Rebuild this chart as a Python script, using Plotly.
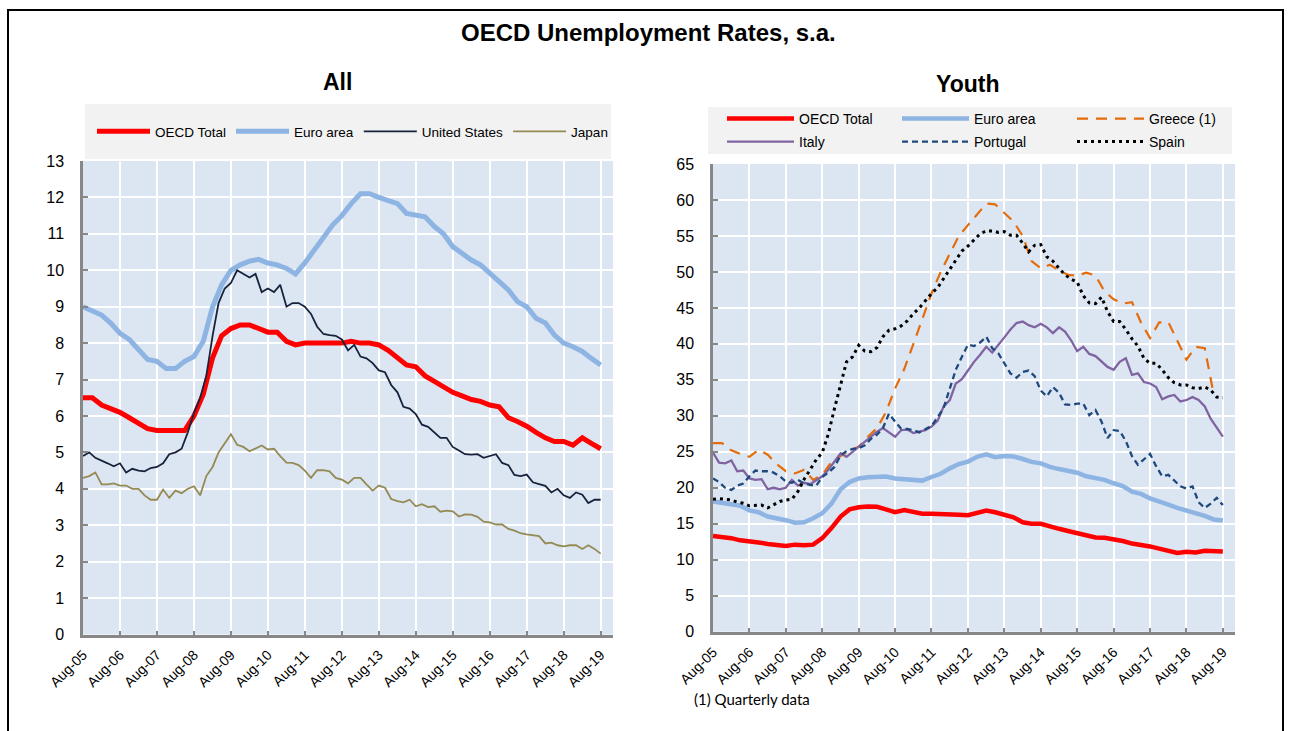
import plotly.graph_objects as go
import pandas as pd

W, H = 1291, 731

# ---------------- dates ----------------
q_dates = pd.date_range("2005-08-01", "2019-08-01", freq="3MS")      # quarterly grid (57)
b_dates = pd.date_range("2005-08-01", "2019-08-01", freq="2MS")      # bi-monthly grid (85)
greece_dates = pd.date_range("2005-08-01", "2019-05-01", freq="3MS")  # quarterly (56)

# ---------------- All ----------------
all_oecd = [6.5, 6.5, 6.3, 6.2, 6.1, 5.95, 5.8, 5.65, 5.6, 5.6, 5.6, 5.6, 6.0,
            6.6, 7.6, 8.2, 8.4, 8.5, 8.5, 8.4, 8.3, 8.3, 8.05, 7.95, 8.0,
            8.0, 8.0, 8.0, 8.0, 8.05, 8.0, 8.0, 7.95, 7.8, 7.6, 7.4, 7.35,
            7.1, 6.95, 6.8, 6.65, 6.55, 6.45, 6.4, 6.3, 6.25, 5.95, 5.85, 5.72, 5.55,
            5.4, 5.3, 5.3, 5.2, 5.4, 5.25, 5.1]
all_euro = [9.0, 8.9, 8.77, 8.55, 8.27, 8.1, 7.8, 7.55, 7.5, 7.3, 7.3, 7.5, 7.63,
            8.05, 9.0, 9.6, 10.0, 10.15, 10.25, 10.3, 10.2, 10.15, 10.05, 9.9, 10.2,
            10.55, 10.87, 11.24, 11.5, 11.83, 12.1, 12.1, 12.0, 11.92, 11.83, 11.56, 11.5,
            11.47, 11.2, 11.0, 10.65, 10.46, 10.28, 10.15, 9.92, 9.73, 9.46, 9.14, 9.0,
            8.68, 8.55, 8.22, 8.0, 7.9, 7.77, 7.58, 7.4]
all_us = [4.9, 5.0, 4.85, 4.78, 4.7, 4.62, 4.7, 4.45, 4.55, 4.5,
          4.48, 4.57, 4.6, 4.7, 4.95, 5.0, 5.1, 5.55, 6.08, 6.5,
          7.1, 8.2, 9.1, 9.5, 9.65, 10.0, 9.9, 9.8, 9.9, 9.4,
          9.5, 9.4, 9.6, 9.0, 9.1, 9.1, 9.0, 8.8, 8.45, 8.25,
          8.22, 8.2, 8.1, 7.8, 7.95, 7.63, 7.58, 7.45, 7.25, 7.2,
          6.85, 6.65, 6.25, 6.2, 6.05, 5.76, 5.7, 5.55, 5.4, 5.4,
          5.15, 5.05, 4.95, 4.94, 4.95, 4.85, 4.9, 4.95, 4.71, 4.65,
          4.38, 4.35, 4.39, 4.18, 4.13, 4.08, 3.9, 4.0, 3.82, 3.75,
          3.9, 3.84, 3.61, 3.7, 3.7]
all_japan = [4.3, 4.35, 4.45, 4.12, 4.12, 4.15, 4.09, 4.09, 4.0, 4.0,
             3.82, 3.7, 3.7, 3.98, 3.75, 3.95, 3.88, 4.0, 4.07, 3.82,
             4.35, 4.6, 5.0, 5.25, 5.5, 5.21, 5.15, 5.03, 5.1, 5.19,
             5.08, 5.1, 4.9, 4.72, 4.71, 4.65, 4.5, 4.3, 4.51, 4.51,
             4.48, 4.3, 4.25, 4.15, 4.3, 4.3, 4.12, 3.95, 4.09, 4.03,
             3.72, 3.66, 3.63, 3.7, 3.52, 3.58, 3.5, 3.52, 3.37, 3.4,
             3.38, 3.24, 3.3, 3.29, 3.23, 3.1, 3.08, 3.02, 3.02, 2.9,
             2.85, 2.78, 2.75, 2.72, 2.7, 2.5, 2.52, 2.45, 2.42, 2.45,
             2.45, 2.35, 2.45, 2.35, 2.22]

# ---------------- Youth ----------------
y_oecd = [13.3, 13.2, 13.0, 12.7, 12.6, 12.4, 12.2, 12.0, 11.9, 12.1, 12.0, 12.1, 13.0,
          14.4, 16.0, 17.0, 17.3, 17.4, 17.35, 17.0, 16.6, 16.9, 16.6, 16.4, 16.4,
          16.4, 16.4, 16.25, 16.2, 16.5, 16.85, 16.6, 16.3, 15.9, 15.2, 15.0, 15.0,
          14.6, 14.3, 14.0, 13.7, 13.45, 13.1, 13.05, 12.9, 12.6, 12.25, 12.1, 11.85,
          11.55, 11.25, 10.95, 11.1, 11.0, 11.25, 11.15, 11.15]
y_euro = [18.1, 17.9, 17.6, 17.5, 16.85, 16.6, 16.0, 15.8, 15.5, 15.15, 15.2, 15.76, 16.46,
          17.8, 19.8, 20.8, 21.3, 21.47, 21.47, 21.56, 21.3, 21.2, 21.15, 21.0, 21.5,
          21.95, 22.7, 23.3, 23.64, 24.3, 24.65, 24.25, 24.43, 24.35, 24.0, 23.6, 23.4,
          22.9, 22.6, 22.4, 22.1, 21.6, 21.35, 21.1, 20.63, 20.25, 19.45, 19.15, 18.54,
          18.15, 17.65, 17.2, 16.83, 16.5, 16.1, 15.6, 15.44]
y_greece = [26.2, 26.2, 25.2, 24.7, 24.3, 25.3, 24.6, 23.3, 22.3, 22.0, 22.5, 21.1, 21.8,
            23.6, 24.4, 25.2, 25.7, 27.1, 28.3, 30.5, 33.8, 36.5, 40.0, 43.5, 47.0,
            50.0, 52.5, 55.0, 56.5, 58.0, 59.5, 59.4, 58.2, 57.0, 55.0, 51.5, 50.5,
            51.0, 50.2, 49.6, 49.5, 49.9, 49.5, 47.3, 46.2, 45.6, 45.8, 43.0, 40.8,
            43.0, 43.0, 40.5, 37.8, 39.6, 39.4, 33.0]
y_italy = [24.9, 23.5, 23.4, 23.8, 22.3, 22.4, 21.3, 21.1, 21.2, 19.8,
           20.0, 19.8, 20.0, 21.1, 20.3, 20.7, 20.5, 21.1, 21.6, 22.5,
           23.6, 24.8, 24.3, 25.0, 25.7, 26.3, 27.1, 27.8, 28.3, 27.7,
           27.1, 28.0, 28.1, 27.6, 27.8, 28.0, 28.5, 29.3, 31.3, 32.2,
           34.5, 35.1, 36.3, 37.5, 38.5, 39.6, 38.8, 39.8, 40.9, 42.0,
           42.9, 43.1, 42.6, 42.3, 42.8, 42.3, 41.5, 42.3, 41.7, 40.5,
           39.0, 39.6, 38.6, 38.3, 37.5, 36.8, 36.4, 37.5, 38.0, 35.7,
           35.9, 34.7, 34.5, 34.0, 32.3, 32.7, 32.9, 32.0, 32.2, 32.6,
           32.2, 31.3, 29.6, 28.4, 27.1]
y_portugal = [21.3, 20.8, 20.0, 19.7, 20.3, 20.6, 21.6, 22.4, 22.3, 22.3,
              22.1, 21.6, 20.9, 20.7, 21.1, 20.6, 20.4, 20.3, 21.5, 22.1,
              22.9, 24.5, 25.1, 25.4, 25.5, 25.9, 26.8, 27.4, 28.3, 30.3,
              29.2, 28.2, 28.2, 28.0, 27.7, 28.1, 28.6, 29.8, 31.1, 33.8,
              36.4, 38.2, 39.9, 39.7, 40.2, 41.0, 39.4, 38.7, 37.2, 35.9,
              35.3, 36.1, 36.3, 35.5, 33.5, 32.7, 34.0, 33.2, 31.6, 31.5,
              31.7, 31.7, 30.1, 30.8, 29.2, 26.9, 28.0, 27.9, 26.5, 24.4,
              23.2, 23.9, 24.7, 23.0, 21.6, 21.8, 21.0, 20.2, 19.9, 20.2,
              18.0, 17.2, 17.8, 18.6, 17.6]
y_spain = [18.4, 18.5, 18.4, 18.3, 18.0, 17.85, 17.5, 17.6, 17.6, 17.2,
           17.6, 18.1, 18.3, 18.4, 19.5, 21.2, 22.5, 23.9, 24.9, 27.5,
           31.0, 34.5, 37.5, 38.2, 39.8, 39.0, 38.9, 39.5, 41.0, 41.9,
           42.1, 42.5, 43.2, 44.2, 45.0, 46.0, 47.0, 47.8, 49.1, 50.3,
           51.7, 52.9, 53.6, 54.4, 55.3, 55.7, 55.7, 55.5, 55.6, 55.1,
           55.1, 54.0, 52.8, 53.7, 53.8, 52.1, 51.5, 50.5, 49.6, 49.0,
           48.6, 46.7, 45.7, 45.6, 46.5, 44.5, 43.1, 43.1, 42.0, 40.7,
           39.7, 38.0, 37.3, 37.3, 36.4, 35.3, 34.6, 34.3, 34.3, 33.9,
           33.8, 34.0, 33.6, 32.6, 32.5]

NARROW = "Liberation Sans Narrow, Arial Narrow, Liberation Sans, Arial, sans-serif"
SANS = "Liberation Sans, Arial, sans-serif"

def px(x):
    return x / W

def py(y):
    return 1 - y / H

fig = go.Figure()

# left panel
fig.add_trace(go.Scatter(x=q_dates, y=all_oecd, name="OECD Total", mode="lines",
                         line=dict(color="#FF0000", width=5), xaxis="x", yaxis="y", legend="legend"))
fig.add_trace(go.Scatter(x=q_dates, y=all_euro, name="Euro area", mode="lines",
                         line=dict(color="#8DB4E2", width=5), xaxis="x", yaxis="y", legend="legend"))
fig.add_trace(go.Scatter(x=b_dates, y=all_us, name="United States", mode="lines",
                         line=dict(color="#17233C", width=1.8), xaxis="x", yaxis="y", legend="legend"))
fig.add_trace(go.Scatter(x=b_dates, y=all_japan, name="Japan", mode="lines",
                         line=dict(color="#948A54", width=1.8), xaxis="x", yaxis="y", legend="legend"))

# right panel
fig.add_trace(go.Scatter(x=q_dates, y=y_oecd, name="OECD Total", mode="lines",
                         line=dict(color="#FF0000", width=4.5), xaxis="x2", yaxis="y2", legend="legend2"))
fig.add_trace(go.Scatter(x=q_dates, y=y_euro, name="Euro area", mode="lines",
                         line=dict(color="#8DB4E2", width=4.5), xaxis="x2", yaxis="y2", legend="legend2"))
fig.add_trace(go.Scatter(x=greece_dates, y=y_greece, name="Greece (1)", mode="lines",
                         line=dict(color="#E46C0A", width=2.2, dash="11px,8px"), xaxis="x2", yaxis="y2", legend="legend2"))
fig.add_trace(go.Scatter(x=b_dates, y=y_italy, name="Italy", mode="lines",
                         line=dict(color="#8064A2", width=2.3), xaxis="x2", yaxis="y2", legend="legend3"))
fig.add_trace(go.Scatter(x=b_dates, y=y_portugal, name="Portugal", mode="lines",
                         line=dict(color="#1F497D", width=2.3, dash="6px,4px"), xaxis="x2", yaxis="y2", legend="legend3"))
fig.add_trace(go.Scatter(x=b_dates, y=y_spain, name="Spain", mode="lines",
                         line=dict(color="#000000", width=3, dash="3px,4px"), xaxis="x2", yaxis="y2", legend="legend3"))

axis_common = dict(showgrid=True, gridcolor="white", gridwidth=1.5, zeroline=False,
                   showline=True, linecolor="#878787", linewidth=2.5,
                   ticks="inside", tickcolor="#878787", tickwidth=1.5,
                   automargin=False, fixedrange=True)
xcommon = dict(axis_common, type="date", tickformat="%b-%y", dtick="M12", tick0="2005-08-01",
               tickangle=-45, ticklen=4, ticklabelstandoff=4,
               tickfont=dict(family=NARROW, size=14, color="black"))
ycommon = dict(axis_common, ticklen=5, ticklabelstandoff=13,
               tickfont=dict(family=NARROW, size=16, color="black"))
legfont = dict(family=NARROW, size=14, color="black")
legfont_left = dict(family=NARROW, size=13.5, color="black")

fig.update_layout(
    width=W, height=H, margin=dict(l=0, r=0, t=0, b=0),
    paper_bgcolor="white", plot_bgcolor="#DCE6F2",
    showlegend=True,
    xaxis=dict(xcommon, domain=[px(83), px(613)], anchor="y",
               range=["2005-08-01", "2019-12-01"]),
    yaxis=dict(ycommon, domain=[py(634.5), py(161)], anchor="x", range=[0, 13], dtick=1),
    xaxis2=dict(xcommon, domain=[px(713), px(1235)], anchor="y2",
                range=["2005-08-01", "2019-12-01"]),
    yaxis2=dict(ycommon, domain=[py(631.7), py(164)], anchor="x2", range=[0, 65], dtick=5),
    legend=dict(orientation="h", x=px(92), y=py(131.5), xanchor="left", yanchor="middle",
                bgcolor="rgba(0,0,0,0)", itemwidth=53, font=legfont_left),
    legend2=dict(orientation="h", x=px(722), y=py(119), xanchor="left", yanchor="middle",
                 bgcolor="rgba(0,0,0,0)", itemwidth=67, entrywidth=93, font=legfont),
    legend3=dict(orientation="h", x=px(722), y=py(142), xanchor="left", yanchor="middle",
                 bgcolor="rgba(0,0,0,0)", itemwidth=67, entrywidth=93, font=legfont),
    shapes=[
        dict(type="rect", xref="paper", yref="paper", x0=px(8), x1=px(1283), y0=-0.05, y1=py(10),
             line=dict(color="black", width=2), fillcolor="rgba(0,0,0,0)", layer="above"),
        dict(type="rect", xref="paper", yref="paper", x0=px(85), x1=px(611), y0=py(159), y1=py(104),
             line=dict(width=0), fillcolor="#F2F2F2", layer="below"),
        dict(type="rect", xref="paper", yref="paper", x0=px(708), x1=px(1232), y0=py(154), y1=py(107),
             line=dict(width=0), fillcolor="#F2F2F2", layer="below"),
    ],
    annotations=[
        dict(text="<b>OECD Unemployment Rates, s.a.</b>", x=px(648), y=py(32), xref="paper", yref="paper",
             showarrow=False, xanchor="center", yanchor="middle",
             font=dict(family=SANS, size=24, color="black")),
        dict(text="<b>All</b>", x=px(337), y=py(82), xref="paper", yref="paper",
             showarrow=False, xanchor="center", yanchor="middle",
             font=dict(family=SANS, size=23, color="black")),
        dict(text="<b>Youth</b>", x=px(967), y=py(84), xref="paper", yref="paper",
             showarrow=False, xanchor="center", yanchor="middle",
             font=dict(family=SANS, size=23, color="black")),
        dict(text="(1) Quarterly data", x=px(692), y=py(699), xref="paper", yref="paper",
             showarrow=False, xanchor="left", yanchor="middle",
             font=dict(family="Lato, Open Sans, sans-serif", size=15, color="black")),
    ],
)

fig.write_html("out.html", config={"displayModeBar": False},
               post_script="document.body.style.margin='0px';")
